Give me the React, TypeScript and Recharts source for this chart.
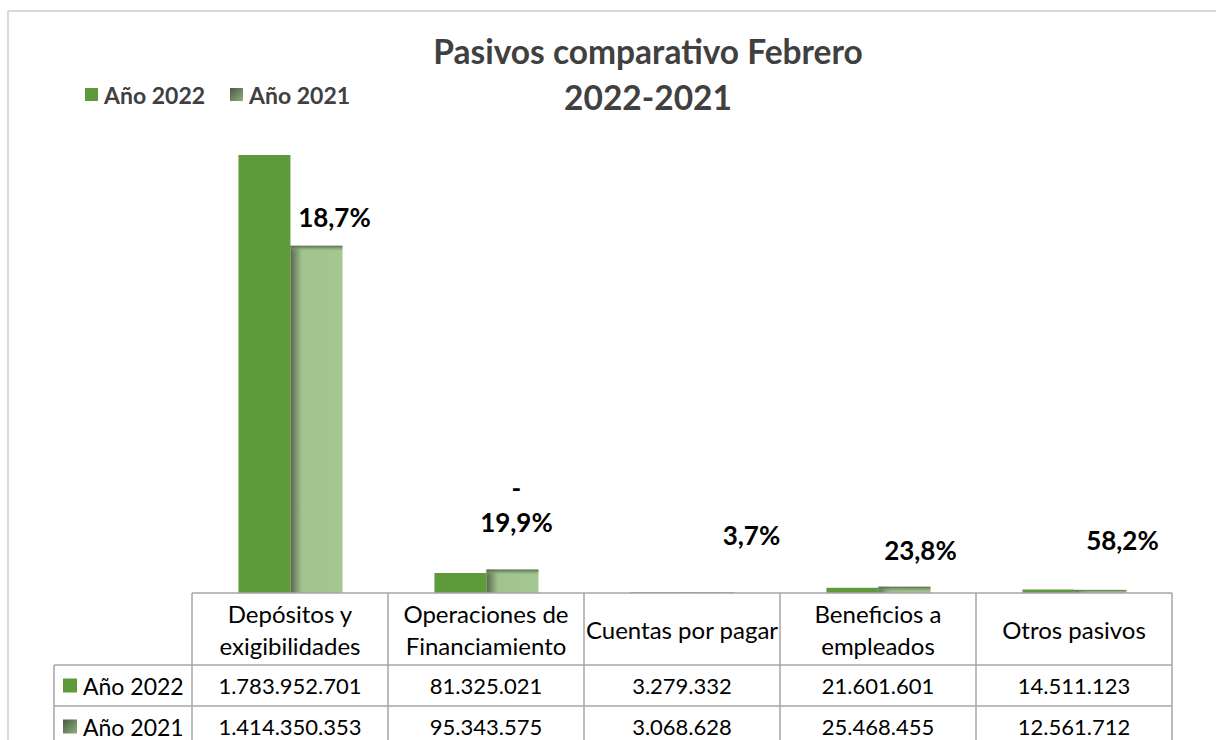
import { BarChart, Bar, XAxis, YAxis, LabelList } from 'recharts';

const categories = [
  'Depósitos y exigibilidades',
  'Operaciones de Financiamiento',
  'Cuentas por pagar',
  'Beneficios a empleados',
  'Otros pasivos',
];
const categoryLines = [
  ['Depósitos y', 'exigibilidades'],
  ['Operaciones de', 'Financiamiento'],
  ['Cuentas por pagar'],
  ['Beneficios a', 'empleados'],
  ['Otros pasivos'],
];
const seriesNames = ['Año 2022', 'Año 2021'];
const year2022 = [1783952701, 81325021, 3279332, 21601601, 14511123];
const year2021 = [1414350353, 95343575, 3068628, 25468455, 12561712];
const changeLabels = ['18,7%', '-19,9%', '3,7%', '23,8%', '58,2%'];

// layout (page coords)
const W = 1216;
const H = 740;
const PLOT_LEFT = 192;
const PLOT_RIGHT = 1172;
const PLOT_TOP = 102;
const BASE = 593;
const HEADER_H = 72;
const ROW_H = 41;
const LABEL_LEFT = 54;
const COL_W = (PLOT_RIGHT - PLOT_LEFT) / categories.length;

// hand placement of the change labels, relative to the 2021 bar top
const LABEL_NUDGE = [
  [18, -19],
  [4, -38],
  [43, -47],
  [16, -27],
  [22, -40],
];

const C2022 = '#5f9a3a';
const GRID = '#a6a6a6';
const FONT = 'Lato, "Open Sans", sans-serif';

const rows = categories.map((name, i) => ({
  name,
  y2022: year2022[i],
  y2021: year2021[i],
  change: changeLabels[i],
}));

const fmt = (n: number) => String(n).replace(/\B(?=(\d{3})+(?!\d))/g, '.');

const HeaderTick = (props: any) => {
  const { x, index } = props;
  const lines = categoryLines[index] || [props.payload?.value];
  const cy = BASE + HEADER_H / 2;
  const lh = 32;
  return (
    <g>
      {lines.map((l: string, k: number) => (
        <text
          key={k}
          x={x}
          y={cy + (k - (lines.length - 1) / 2) * lh}
          textAnchor="middle"
          dominantBaseline="central"
          fontFamily={FONT}
          fontSize={24}
          fill="#000"
        >
          {l}
        </text>
      ))}
    </g>
  );
};

const Bar2021Shape = (props: any) => {
  const { x, y, width, height } = props;
  if (!height || height <= 0) return null;
  return (
    <g>
      <rect x={x} y={y} width={width} height={height} fill="url(#g21h)" />
      <rect x={x} y={y} width={width} height={Math.min(6, height)} fill="url(#g21v)" />
    </g>
  );
};

const ChangeLabel = (props: any) => {
  const { x, y, width, value } = props;
  let idx = props.index;
  if (idx == null) idx = changeLabels.indexOf(value);
  const [dx, dy] = LABEL_NUDGE[idx] || [0, -10];
  const cx = x + width / 2 + dx;
  const by = y + dy;
  const txt = String(value);
  const neg = txt.startsWith('-');
  return (
    <g>
      {neg && (
        <text x={cx} y={by - 34} textAnchor="middle" fontFamily={FONT} fontWeight={700} fontSize={26} fill="#000">
          -
        </text>
      )}
      <text x={cx} y={by} textAnchor="middle" fontFamily={FONT} fontWeight={700} fontSize={26} fill="#000">
        {neg ? txt.slice(1) : txt}
      </text>
    </g>
  );
};

export default function App() {
  const tableBottom = BASE + HEADER_H + ROW_H * 2;
  const rowVals = [year2022, year2021];
  return (
    <div style={{ position: 'absolute', left: 0, top: 0, width: W, height: H, background: '#fff', fontFamily: FONT }}>
      <div style={{ position: 'absolute', left: 0, top: 0 }}>
        <BarChart
          width={W}
          height={H}
          data={rows}
          margin={{ top: PLOT_TOP, right: W - PLOT_RIGHT, left: PLOT_LEFT, bottom: H - BASE - HEADER_H }}
          barCategoryGap="23.7%"
          barGap={0}
        >
          <XAxis
            dataKey="name"
            height={HEADER_H}
            axisLine={false}
            tickLine={false}
            tickSize={0}
            tickMargin={0}
            interval={0}
            tick={(p: any) => <HeaderTick {...p} />}
          />
          <YAxis hide domain={[0, 2000000000]} />
          <Bar dataKey="y2022" name={seriesNames[0]} fill={C2022} isAnimationActive={false} />
          <Bar dataKey="y2021" name={seriesNames[1]} shape={(p: any) => <Bar2021Shape {...p} />} isAnimationActive={false}>
            <LabelList dataKey="change" content={(p: any) => <ChangeLabel {...p} />} />
          </Bar>
        </BarChart>
      </div>
      <svg width={W} height={H} style={{ position: 'absolute', left: 0, top: 0, pointerEvents: 'none' }}>
        <defs>
          <linearGradient id="g21h" x1="0" y1="0" x2="1" y2="0">
            <stop offset="0%" stopColor="#56684c" />
            <stop offset="22%" stopColor="#a2c38d" />
            <stop offset="100%" stopColor="#a6c692" />
          </linearGradient>
          <linearGradient id="g21v" x1="0" y1="0" x2="0" y2="1">
            <stop offset="0%" stopColor="#56684c" stopOpacity={1} />
            <stop offset="100%" stopColor="#a2c38d" stopOpacity={0} />
          </linearGradient>
          <linearGradient id="g21sw" x1="0" y1="0" x2="1" y2="1">
            <stop offset="0%" stopColor="#4a5944" />
            <stop offset="100%" stopColor="#8fb07e" />
          </linearGradient>
        </defs>
        {/* chart frame */}
        <line x1={8} y1={11} x2={W} y2={11} stroke="#d9d9d9" strokeWidth={2} />
        <line x1={8} y1={11} x2={8} y2={H} stroke="#d9d9d9" strokeWidth={2} />

        {/* title */}
        <text x={648} y={64} textAnchor="middle" fontFamily={FONT} fontWeight={700} fontSize={33.5} fill="#404040">
          Pasivos comparativo Febrero
        </text>
        <text x={648} y={110} textAnchor="middle" fontFamily={FONT} fontWeight={700} fontSize={33.5} fill="#404040">
          2022-2021
        </text>

        {/* legend */}
        <rect x={85} y={88} width={13} height={13} fill={C2022} />
        <text x={104} y={94.5} dominantBaseline="central" fontFamily={FONT} fontWeight={700} fontSize={23} fill="#404040">
          {seriesNames[0]}
        </text>
        <rect x={230} y={88} width={13} height={13} fill="url(#g21sw)" />
        <text x={249} y={94.5} dominantBaseline="central" fontFamily={FONT} fontWeight={700} fontSize={23} fill="#404040">
          {seriesNames[1]}
        </text>

        {/* data table grid */}
        <line x1={PLOT_LEFT} y1={BASE} x2={PLOT_RIGHT} y2={BASE} stroke={GRID} strokeWidth={1.5} />
        {[0, 1, 2].map((r) => (
          <line
            key={r}
            x1={LABEL_LEFT}
            y1={BASE + HEADER_H + r * ROW_H}
            x2={PLOT_RIGHT}
            y2={BASE + HEADER_H + r * ROW_H}
            stroke={GRID}
            strokeWidth={1.5}
          />
        ))}
        {categories.map((_, i) => (
          <line key={i} x1={PLOT_LEFT + i * COL_W} y1={BASE} x2={PLOT_LEFT + i * COL_W} y2={tableBottom} stroke={GRID} strokeWidth={1.5} />
        ))}
        <line x1={PLOT_RIGHT} y1={BASE} x2={PLOT_RIGHT} y2={tableBottom} stroke={GRID} strokeWidth={1.5} />
        <line x1={LABEL_LEFT} y1={BASE + HEADER_H} x2={LABEL_LEFT} y2={tableBottom} stroke={GRID} strokeWidth={1.5} />

        {rowVals.map((vals, r) => {
          const cy = BASE + HEADER_H + r * ROW_H + ROW_H / 2;
          return (
            <g key={r}>
              <rect x={63} y={cy - 7} width={14} height={14} fill={r === 0 ? C2022 : 'url(#g21sw)'} />
              <text x={83} y={cy} dominantBaseline="central" fontFamily={FONT} fontSize={23} fill="#000">
                {seriesNames[r]}
              </text>
              {vals.map((v, i) => (
                <text
                  key={i}
                  x={PLOT_LEFT + i * COL_W + COL_W / 2}
                  y={cy}
                  textAnchor="middle"
                  dominantBaseline="central"
                  fontFamily={FONT}
                  fontSize={22}
                  fill="#000"
                >
                  {fmt(v)}
                </text>
              ))}
            </g>
          );
        })}
      </svg>
    </div>
  );
}
